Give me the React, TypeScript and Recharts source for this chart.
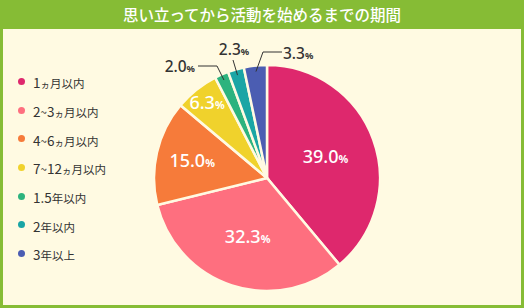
import React from 'react';
import { PieChart, Pie, Cell } from 'recharts';

const categories = ['1ヵ月以内', '2~3ヵ月以内', '4~6ヵ月以内', '7~12ヵ月以内', '1.5年以内', '2年以内', '3年以上'];
const shares = [39.0, 32.3, 15.0, 6.3, 2.0, 2.3, 3.3];
const colors = ['#de286d', '#fe6f7f', '#f67b3a', '#f0d22c', '#2db37e', '#1aa5a5', '#4b5db2'];

const TITLE = '思い立ってから活動を始めるまでの期間';
const GREEN = '#86bc35';
const CREAM = '#fffae2';
const FONT = '"Noto Sans", "Noto Sans CJK JP", sans-serif';

const data = categories.map((name, i) => ({ name, value: shares[i] }));

// inside label distance (fraction of radius), outside labels use leader lines
const insideRadius = [0.55, 0.55, 0.68, 0.85];
const outside: Record<number, { elbow: [number, number]; end: [number, number]; anchor: 'start' | 'middle' | 'end'; text: [number, number] }> = {
    4: { elbow: [-50, -112], end: [-69, -112], anchor: 'end', text: [-72, -106] },
    5: { elbow: [-34, -118], end: [-34, -118], anchor: 'middle', text: [-33, -123] },
    6: { elbow: [-4, -126], end: [15, -126], anchor: 'start', text: [16, -119] },
};

const Percent = ({ x, y, value, size, fill, anchor }: any) => (
    <text x={x} y={y} textAnchor={anchor} fill={fill} fontFamily={FONT} fontWeight={500} fontSize={size}>
        <tspan>{value.toFixed(1)}</tspan>
        <tspan fontSize={size * 0.6} fontWeight={700}>%</tspan>
    </text>
);

const renderLabel = (props: any) => {
    const { cx, cy, midAngle, outerRadius, index, value } = props;
    const rad = Math.PI / 180;
    if (index < 4) {
        const r = outerRadius * insideRadius[index];
        const x = cx + r * Math.cos(-midAngle * rad);
        const y = cy + r * Math.sin(-midAngle * rad);
        return <Percent x={x} y={y + 6} value={value} size={18} fill="#fff" anchor="middle" />;
    }
    const o = outside[index];
    const r = outerRadius - 6;
    const sx = cx + r * Math.cos(-midAngle * rad);
    const sy = cy + r * Math.sin(-midAngle * rad);
    return (
        <g>
            <polyline
                points={`${sx},${sy} ${cx + o.elbow[0]},${cy + o.elbow[1]} ${cx + o.end[0]},${cy + o.end[1]}`}
                fill="none"
                stroke="#333"
                strokeWidth={1}
            />
            <Percent x={cx + o.text[0]} y={cy + o.text[1]} value={value} size={15.5} fill="#333" anchor={o.anchor} />
        </g>
    );
};

const LegendLabel = ({ text }: { text: string }) => (
    <span>
        {Array.from(text).map((ch, i) => {
            const size = /[0-9.]/.test(ch) ? 13.5 : ch === 'ヵ' ? 9.5 : 11.5;
            return (
                <span key={i} style={{ fontSize: size }}>
                    {ch}
                </span>
            );
        })}
    </span>
);

const App: React.FC = () => {
    return (
        <div style={{ position: 'absolute', left: 0, top: 0, width: 524, height: 308, background: GREEN, fontFamily: FONT }}>
            <div
                style={{
                    position: 'absolute',
                    left: 0,
                    top: 0,
                    width: 524,
                    height: 29,
                    lineHeight: '29px',
                    textAlign: 'center',
                    color: '#fff',
                    fontSize: 15.5,
                    fontWeight: 500,
                    fontFamily: '"Noto Sans CJK JP", sans-serif',
                }}
            >
                {TITLE}
            </div>
            <div style={{ position: 'absolute', left: 3, top: 29, width: 518, height: 276, background: CREAM }} />
            <div style={{ position: 'absolute', left: 18, top: 67, color: '#333', fontFamily: '"Noto Sans CJK JP", sans-serif' }}>
                {categories.map((c, i) => (
                    <div key={c} style={{ height: 28.7, display: 'flex', alignItems: 'center' }}>
                        <span
                            style={{ width: 7, height: 7, borderRadius: '50%', background: colors[i], display: 'inline-block', marginRight: 8 }}
                        />
                        <LegendLabel text={c} />
                    </div>
                ))}
            </div>
            <div style={{ position: 'absolute', left: 0, top: 0 }}>
                <PieChart width={524} height={308} margin={{ top: 0, right: 0, bottom: 0, left: 0 }}>
                    <Pie
                        data={data}
                        dataKey="value"
                        nameKey="name"
                        cx={267}
                        cy={178}
                        outerRadius={113}
                        startAngle={90}
                        endAngle={-270}
                        stroke={CREAM}
                        strokeWidth={2.5}
                        label={renderLabel}
                        labelLine={false}
                        isAnimationActive={false}
                    >
                        {data.map((d, i) => (
                            <Cell key={d.name} fill={colors[i]} />
                        ))}
                    </Pie>
                </PieChart>
            </div>
        </div>
    );
};

export default App;
